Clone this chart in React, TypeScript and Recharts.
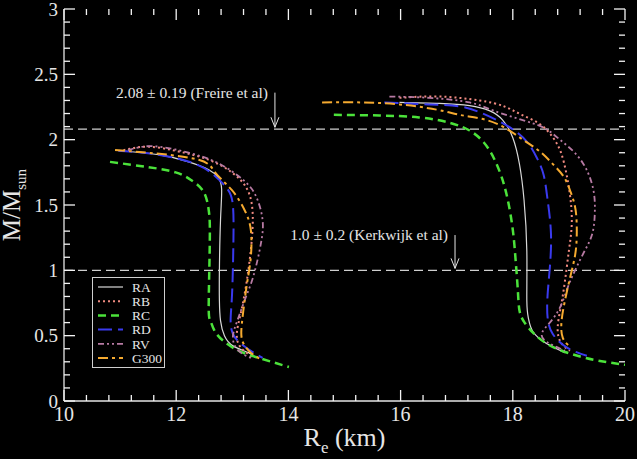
import { LineChart, Line, XAxis, YAxis, ReferenceLine, Legend } from 'recharts';

// mass-radius curves, two branches per model (R in km, M in solar masses)
const raLeft = [
  { r: 10.97, m: 1.915 }, { r: 11.68, m: 1.885 }, { r: 12.22, m: 1.83 }, { r: 12.58, m: 1.77 },
  { r: 12.75, m: 1.71 }, { r: 12.81, m: 1.62 }, { r: 12.79, m: 1.385 }, { r: 12.77, m: 1.0 },
  { r: 12.77, m: 0.77 }, { r: 12.79, m: 0.615 }, { r: 12.86, m: 0.5 }, { r: 13.02, m: 0.42 },
  { r: 13.29, m: 0.37 }, { r: 13.42, m: 0.33 },
];
const raRight = [
  { r: 15.98, m: 2.285 }, { r: 16.69, m: 2.277 }, { r: 17.23, m: 2.26 }, { r: 17.59, m: 2.22 },
  { r: 17.82, m: 2.15 }, { r: 18.0, m: 2.015 }, { r: 18.12, m: 1.81 }, { r: 18.2, m: 1.54 },
  { r: 18.25, m: 1.15 }, { r: 18.25, m: 0.77 }, { r: 18.28, m: 0.63 }, { r: 18.36, m: 0.53 },
  { r: 18.6, m: 0.44 }, { r: 18.93, m: 0.37 },
];
const rbLeft = [
  { r: 11.06, m: 1.92 }, { r: 11.5, m: 1.946 }, { r: 12.04, m: 1.91 }, { r: 12.58, m: 1.846 },
  { r: 12.99, m: 1.75 }, { r: 13.24, m: 1.64 }, { r: 13.35, m: 1.5 }, { r: 13.36, m: 1.31 },
  { r: 13.31, m: 1.08 }, { r: 13.24, m: 0.87 }, { r: 13.15, m: 0.67 }, { r: 13.08, m: 0.515 },
  { r: 13.15, m: 0.41 }, { r: 13.38, m: 0.33 },
];
const rbRight = [
  { r: 15.98, m: 2.32 }, { r: 16.69, m: 2.33 }, { r: 17.41, m: 2.3 }, { r: 17.85, m: 2.254 },
  { r: 18.16, m: 2.19 }, { r: 18.48, m: 2.12 }, { r: 18.71, m: 2.02 }, { r: 18.86, m: 1.9 },
  { r: 18.96, m: 1.73 }, { r: 19.03, m: 1.54 }, { r: 19.05, m: 1.346 }, { r: 19.0, m: 1.15 },
  { r: 18.93, m: 0.92 }, { r: 18.86, m: 0.73 }, { r: 18.8, m: 0.56 }, { r: 18.86, m: 0.446 },
  { r: 19.02, m: 0.385 },
];
const rcLeft = [
  { r: 10.82, m: 1.83 }, { r: 11.5, m: 1.79 }, { r: 11.99, m: 1.75 }, { r: 12.27, m: 1.69 },
  { r: 12.49, m: 1.6 }, { r: 12.58, m: 1.46 }, { r: 12.6, m: 1.31 }, { r: 12.59, m: 1.0 },
  { r: 12.58, m: 0.69 }, { r: 12.61, m: 0.615 }, { r: 12.68, m: 0.54 }, { r: 12.84, m: 0.46 },
  { r: 13.11, m: 0.385 }, { r: 13.47, m: 0.33 }, { r: 14.01, m: 0.26 },
];
const rcRight = [
  { r: 14.81, m: 2.19 }, { r: 15.62, m: 2.185 }, { r: 16.33, m: 2.17 }, { r: 16.87, m: 2.13 },
  { r: 17.23, m: 2.07 }, { r: 17.48, m: 1.98 }, { r: 17.66, m: 1.86 }, { r: 17.8, m: 1.715 },
  { r: 17.91, m: 1.54 }, { r: 18.0, m: 1.31 }, { r: 18.05, m: 1.08 }, { r: 18.09, m: 0.846 },
  { r: 18.12, m: 0.69 }, { r: 18.21, m: 0.6 }, { r: 18.39, m: 0.51 }, { r: 18.71, m: 0.415 },
  { r: 19.2, m: 0.34 }, { r: 19.64, m: 0.3 }, { r: 20.0, m: 0.277 },
];
const rdLeft = [
  { r: 10.97, m: 1.915 }, { r: 11.68, m: 1.885 }, { r: 12.31, m: 1.82 }, { r: 12.67, m: 1.73 },
  { r: 12.9, m: 1.63 }, { r: 13.01, m: 1.5 }, { r: 13.02, m: 1.23 }, { r: 13.01, m: 1.0 },
  { r: 12.99, m: 0.77 }, { r: 12.97, m: 0.615 }, { r: 13.01, m: 0.515 }, { r: 13.15, m: 0.44 },
  { r: 13.38, m: 0.37 }, { r: 13.54, m: 0.33 },
];
const rdRight = [
  { r: 15.71, m: 2.285 }, { r: 16.51, m: 2.27 }, { r: 17.05, m: 2.254 }, { r: 17.41, m: 2.21 },
  { r: 17.76, m: 2.14 }, { r: 18.03, m: 2.07 }, { r: 18.26, m: 1.98 }, { r: 18.43, m: 1.86 },
  { r: 18.55, m: 1.73 }, { r: 18.62, m: 1.54 }, { r: 18.68, m: 1.285 }, { r: 18.66, m: 1.02 },
  { r: 18.62, m: 0.81 }, { r: 18.62, m: 0.64 }, { r: 18.71, m: 0.515 }, { r: 18.96, m: 0.41 },
  { r: 19.32, m: 0.346 },
];
const rvLeft = [
  { r: 11.14, m: 1.92 }, { r: 11.59, m: 1.95 }, { r: 12.22, m: 1.9 }, { r: 12.75, m: 1.82 },
  { r: 13.2, m: 1.69 }, { r: 13.43, m: 1.56 }, { r: 13.54, m: 1.385 }, { r: 13.52, m: 1.23 },
  { r: 13.45, m: 1.08 }, { r: 13.35, m: 0.92 }, { r: 13.22, m: 0.77 }, { r: 13.09, m: 0.615 },
  { r: 13.01, m: 0.485 }, { r: 13.11, m: 0.385 }, { r: 13.33, m: 0.33 },
];
const rvRight = [
  { r: 15.8, m: 2.33 }, { r: 16.51, m: 2.32 }, { r: 17.23, m: 2.285 }, { r: 17.67, m: 2.22 },
  { r: 18.25, m: 2.14 }, { r: 18.6, m: 2.08 }, { r: 18.84, m: 2.0 }, { r: 19.07, m: 1.915 },
  { r: 19.25, m: 1.82 }, { r: 19.37, m: 1.715 }, { r: 19.45, m: 1.58 }, { r: 19.46, m: 1.42 },
  { r: 19.41, m: 1.27 }, { r: 19.27, m: 1.14 }, { r: 19.11, m: 1.0 }, { r: 18.98, m: 0.87 },
  { r: 18.84, m: 0.715 }, { r: 18.66, m: 0.6 }, { r: 18.52, m: 0.52 }, { r: 18.6, m: 0.454 },
  { r: 18.93, m: 0.385 },
];
const g300Left = [
  { r: 10.91, m: 1.92 }, { r: 11.5, m: 1.9 }, { r: 12.4, m: 1.846 }, { r: 12.7, m: 1.746 },
  { r: 12.99, m: 1.615 }, { r: 13.22, m: 1.46 }, { r: 13.33, m: 1.31 }, { r: 13.33, m: 1.1 },
  { r: 13.27, m: 0.92 }, { r: 13.22, m: 0.77 }, { r: 13.17, m: 0.59 }, { r: 13.18, m: 0.46 },
  { r: 13.33, m: 0.37 }, { r: 13.51, m: 0.32 },
];
const g300Right = [
  { r: 14.6, m: 2.285 }, { r: 15.31, m: 2.285 }, { r: 15.98, m: 2.27 }, { r: 16.64, m: 2.23 },
  { r: 17.05, m: 2.19 }, { r: 17.44, m: 2.16 }, { r: 17.82, m: 2.1 }, { r: 18.18, m: 2.0 },
  { r: 18.48, m: 1.91 }, { r: 18.71, m: 1.815 }, { r: 18.91, m: 1.715 }, { r: 19.03, m: 1.6 },
  { r: 19.12, m: 1.46 }, { r: 19.14, m: 1.27 }, { r: 19.11, m: 1.115 }, { r: 19.03, m: 0.96 },
  { r: 18.94, m: 0.79 }, { r: 18.87, m: 0.615 }, { r: 18.89, m: 0.485 }, { r: 19.02, m: 0.415 },
];

const seriesNames = ['RA', 'RB', 'RC', 'RD', 'RV', 'G300'];
const xTicks = [10, 10.4, 10.8, 11.2, 11.6, 12, 12.4, 12.8, 13.2, 13.6, 14, 14.4, 14.8, 15.2, 15.6, 16,
  16.4, 16.8, 17.2, 17.6, 18, 18.4, 18.8, 19.2, 19.6, 20];
const yTicks = [0, 0.1, 0.2, 0.3, 0.4, 0.5, 0.6, 0.7, 0.8, 0.9, 1, 1.1, 1.2, 1.3, 1.4, 1.5, 1.6, 1.7,
  1.8, 1.9, 2, 2.1, 2.2, 2.3, 2.4, 2.5, 2.6, 2.7, 2.8, 2.9, 3];
const observedMasses = [2.08, 1.0];
const annotations = [
  { text: '2.08 \u00b1 0.19 (Freire et al)', r: 13.76, top: 2.36, bottom: 2.095 },
  { text: '1.0 \u00b1 0.2 (Kerkwijk et al)', r: 16.97, top: 1.27, bottom: 1.015 },
];

const X_DOMAIN = [10, 20];
const Y_DOMAIN = [0, 3];
const W = 637;
const H = 459;
const MARGIN = { top: 9, right: 12, bottom: 0, left: 0 };

const styles: Record<string, { color: string; width: number; dash?: string }> = {
  RA: { color: '#d8d8d8', width: 1.2 },
  RB: { color: '#f08a80', width: 2, dash: '2 3' },
  RC: { color: '#4be23a', width: 2.5, dash: '8 5' },
  RD: { color: '#3a3aee', width: 2, dash: '14 6' },
  RV: { color: '#b77aa3', width: 1.8, dash: '6 3 2 3 2 3' },
  G300: { color: '#f5aa30', width: 2, dash: '10 4 3 4' },
};

const branches: [string, { r: number; m: number }[]][] = [
  ['RA', raLeft], ['RA', raRight], ['RB', rbLeft], ['RB', rbRight], ['RC', rcLeft], ['RC', rcRight],
  ['RD', rdLeft], ['RD', rdRight], ['RV', rvLeft], ['RV', rvRight], ['G300', g300Left], ['G300', g300Right],
];

const FONT = '"Liberation Serif", "DejaVu Serif", serif';
const FG = '#e6e6e6';
const TICK = '#f4f4f4';

const near = (v: number, step: number) => Math.abs(v / step - Math.round(v / step)) < 1e-6;

const BottomTick = ({ x, y, payload }: any) =>
  near(payload.value, 2) ? (
    <text x={x} y={y + 20} textAnchor="middle" fontSize={20} fill={FG} fontFamily={FONT}>{payload.value}</text>
  ) : <g />;
const LeftTick = ({ x, y, payload }: any) =>
  near(payload.value, 0.5) ? (
    <text x={x - 6} y={y} dy="0.35em" textAnchor="end" fontSize={19} fill={FG} fontFamily={FONT}>{payload.value}</text>
  ) : <g />;

// axis titles; they also draw the inward tick marks of the frame from the axis box
const XTitle = ({ viewBox }: any) => {
  const { x, y, width } = viewBox;
  const cx = x + width / 2;
  const px = (v: number) => x + ((v - X_DOMAIN[0]) / (X_DOMAIN[1] - X_DOMAIN[0])) * width;
  return (
    <g>
      {xTicks.map((v) => {
        const len = near(v, 2) ? 11 : 6;
        return (
          <g key={v}>
            <line x1={px(v)} x2={px(v)} y1={y} y2={y - len} stroke={TICK} strokeWidth={1.3} />
            <line x1={px(v)} x2={px(v)} y1={MARGIN.top} y2={MARGIN.top + len} stroke={TICK} strokeWidth={1.3} />
          </g>
        );
      })}
      <text x={cx} y={y + 45} textAnchor="middle" fontSize={26} fill={FG} fontFamily={FONT}>
        R<tspan dy={7} fontSize={17}>e</tspan><tspan dy={-7}> (km)</tspan>
      </text>
    </g>
  );
};
const YTitle = ({ viewBox }: any) => {
  const { x, y, width, height } = viewBox;
  const left = x + width;
  const right = W - MARGIN.right;
  const py = (v: number) => y + (1 - (v - Y_DOMAIN[0]) / (Y_DOMAIN[1] - Y_DOMAIN[0])) * height;
  const cy = y + height / 2;
  return (
    <g>
      {yTicks.map((v) => {
        const len = near(v, 0.5) ? 11 : 6;
        return (
          <g key={v}>
            <line x1={left} x2={left + len} y1={py(v)} y2={py(v)} stroke={TICK} strokeWidth={1.3} />
            <line x1={right} x2={right - len} y1={py(v)} y2={py(v)} stroke={TICK} strokeWidth={1.3} />
          </g>
        );
      })}
      <text x={20} y={cy} transform={`rotate(-90, 20, ${cy})`} textAnchor="middle" fontSize={25} fill={FG} fontFamily={FONT}>
        M/M<tspan dy={6} fontSize={15}>sun</tspan>
      </text>
    </g>
  );
};

const Arrow = ({ x1, y1, x2, y2, text }: any) => (
  <g>
    <line x1={x1} y1={y1} x2={x2} y2={y2} stroke={FG} />
    <polyline points={`${x2 - 4},${y2 - 10} ${x2},${y2} ${x2 + 4},${y2 - 10}`} fill="none" stroke={FG} />
    <text x={x1 - 7} y={y1} dy="0.35em" textAnchor="end" fontSize={15.5} fill={FG} fontFamily={FONT}>{text}</text>
  </g>
);

const LegendBox = () => (
  <svg width={74} height={92}>
    <rect x={0.5} y={0.5} width={72} height={90} fill="#000" stroke="#cfcfcf" />
    {seriesNames.map((name, i) => {
      const s = styles[name];
      const ly = 10 + i * 14.2;
      return (
        <g key={name}>
          <line x1={6} x2={31} y1={ly} y2={ly} stroke={s.color} strokeWidth={s.width} strokeDasharray={s.dash} />
          <text x={40} y={ly} dy="0.35em" fontSize={13.5} fill={FG} fontFamily={FONT}>{name}</text>
        </g>
      );
    })}
  </svg>
);

export default function App() {
  return (
    <div style={{ position: 'fixed', left: 0, top: 0, width: W, height: H, background: '#000' }}>
      <LineChart width={W} height={H} margin={MARGIN}>
        <XAxis type="number" dataKey="r" domain={X_DOMAIN} allowDataOverflow ticks={xTicks}
          interval={0} tickSize={0} tickMargin={0} tickLine={false} tick={BottomTick} height={58}
          axisLine={{ stroke: FG, strokeWidth: 1.3 }} label={<XTitle />} />
        <XAxis xAxisId="top" orientation="top" type="number" dataKey="r" domain={X_DOMAIN} allowDataOverflow
          tick={false} tickLine={false} height={0} axisLine={{ stroke: FG, strokeWidth: 1.3 }} />
        <YAxis type="number" dataKey="m" domain={Y_DOMAIN} allowDataOverflow ticks={yTicks}
          interval={0} tickSize={0} tickMargin={0} tickLine={false} tick={LeftTick} width={64}
          axisLine={{ stroke: FG, strokeWidth: 1.3 }} label={<YTitle />} />
        <YAxis yAxisId="right" orientation="right" type="number" dataKey="m" domain={Y_DOMAIN} allowDataOverflow
          tick={false} tickLine={false} width={0} axisLine={{ stroke: FG, strokeWidth: 1.3 }} />
        {observedMasses.map((m) => (
          <ReferenceLine key={m} y={m} stroke="#cfcfcf" strokeWidth={1.2} strokeDasharray="9 5" />
        ))}
        {annotations.map((a) => (
          <ReferenceLine key={a.text} segment={[{ x: a.r, y: a.top }, { x: a.r, y: a.bottom }]}
            shape={(p: any) => <Arrow {...p} text={a.text} />} />
        ))}
        {branches.map(([name, data], i) => {
          const s = styles[name];
          return (
            <Line key={i} data={data} dataKey="m" type="natural" stroke={s.color} strokeWidth={s.width}
              strokeDasharray={s.dash} dot={false} isAnimationActive={false} />
          );
        })}
        <Legend layout="vertical" align="center" verticalAlign="middle" content={<LegendBox />}
          wrapperStyle={{ left: 92, top: 277, width: 74, height: 92 }} />
      </LineChart>
    </div>
  );
}
